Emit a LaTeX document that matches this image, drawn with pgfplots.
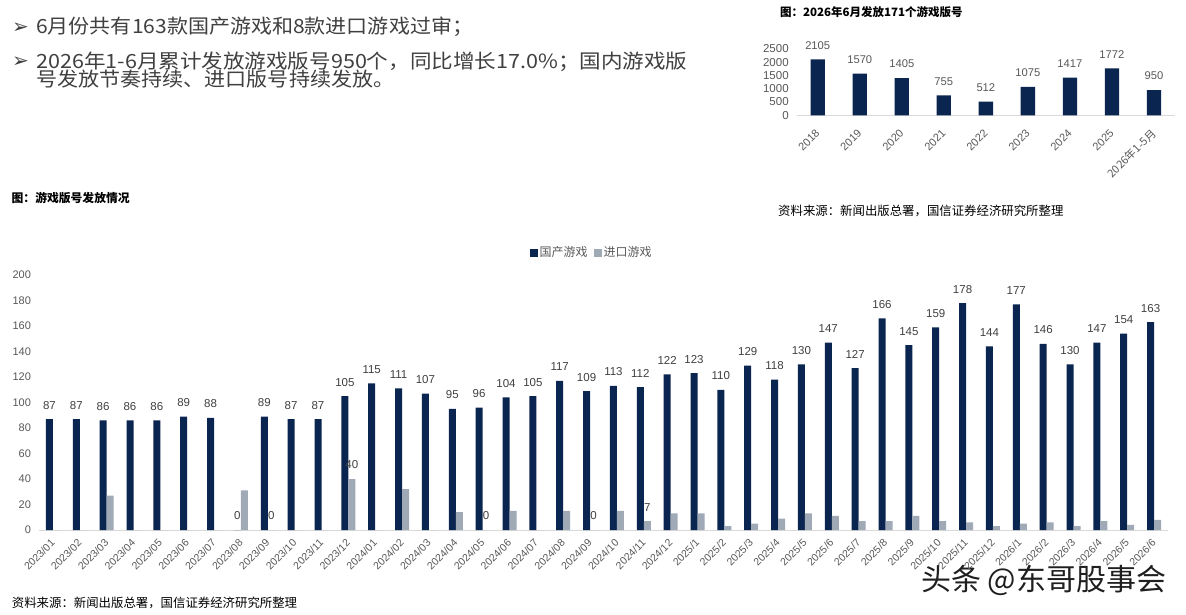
\documentclass[border=0pt]{standalone}
\usepackage{fontspec}
\setmainfont{Liberation Sans}
\newfontfamily\cjk{Noto Sans CJK SC}
\newfontfamily\djv{DejaVu Sans}
\usepackage{pgfplots}
\pgfplotsset{compat=1.18}
\definecolor{navy}{HTML}{0A2650}
\definecolor{gry}{HTML}{A0AAB7}
\definecolor{tk}{HTML}{595959}
\definecolor{txt}{HTML}{404040}
\definecolor{axl}{HTML}{D9D9D9}
\pgfplotsset{sqleg/.style={legend image code/.code={\fill[##1] (0pt,-4pt) rectangle (8pt,4pt);}}}
\begin{document}
\begin{tikzpicture}
\path[use as bounding box, fill=white] (0,0) rectangle (1186pt,614pt);
% bullet text
\node[anchor=base west, inner sep=0pt, font=\djv\fontsize{20}{20}\selectfont, text=txt] at (12pt,580.6pt) {➢};
\node[anchor=base west, inner sep=0pt, font=\djv\fontsize{20}{20}\selectfont, text=txt] at (12pt,546.2pt) {➢};
\node[anchor=base west, inner sep=0pt, xscale=1.073, font=\cjk\fontsize{19.6}{19.6}\selectfont, text=txt] at (36pt,580.1pt) {6月份共有163款国产游戏和8款进口游戏过审；};
\node[anchor=base west, inner sep=0pt, xscale=1.10, font=\cjk\fontsize{19.6}{19.6}\selectfont, text=txt] at (36pt,545.3pt) {2026年1-6月累计发放游戏版号950个，同比增长17.0\%；国内游戏版};
\node[anchor=base west, inner sep=0pt, xscale=1.075, font=\cjk\fontsize{19.6}{19.6}\selectfont, text=txt] at (36pt,527.3pt) {号发放节奏持续、进口版号持续发放。};
% titles and sources
\node[anchor=base west, inner sep=0pt, font=\cjk\bfseries\fontsize{11.8}{12}\selectfont] at (11.5pt,411.5pt) {图：游戏版号发放情况};
\node[anchor=base west, inner sep=0pt, font=\cjk\bfseries\fontsize{11.5}{12}\selectfont] at (780pt,597pt) {图：2026年6月发放171个游戏版号};
\node[anchor=base west, inner sep=0pt, font=\cjk\fontsize{12.4}{13}\selectfont] at (778pt,398.3pt) {资料来源：新闻出版总署，国信证券经济研究所整理};
\node[anchor=base west, inner sep=0pt, font=\cjk\fontsize{12.4}{13}\selectfont] at (11.7pt,7pt) {资料来源：新闻出版总署，国信证券经济研究所整理};
\node[anchor=base west, inner sep=0pt, font=\cjk\fontsize{30}{30}\selectfont, text=black!88] at (921pt,23.6pt) {头条 @东哥股事会};

% main chart
\begin{axis}[
  at={(39.5pt,84pt)}, anchor=south west,
  scale only axis, width=1128pt, height=255pt,
  ybar, bar width=7pt,
  xmin=-0.5, xmax=41.5, ymin=0, ymax=200,
  enlargelimits=false, clip=false,
  axis lines*=left,
  x axis line style={draw=axl, line width=0.8pt},
  y axis line style={draw=none},
  major tick length=0pt, tick style={draw=none},
  ytick={0,20,...,200},
  xtick={0,...,41},
  xticklabels={2023/01,2023/02,2023/03,2023/04,2023/05,2023/06,2023/07,2023/08,2023/09,2023/10,2023/11,2023/12,2024/01,2024/02,2024/03,2024/04,2024/05,2024/06,2024/07,2024/08,2024/09,2024/10,2024/11,2024/12,2025/1,2025/2,2025/3,2025/4,2025/5,2025/6,2025/7,2025/8,2025/9,2025/10,2025/11,2025/12,2026/1,2026/2,2026/3,2026/4,2026/5,2026/6},
  /pgf/number format/assume math mode=true,
  ticklabel style={font=\fontsize{11}{11}\selectfont, text=tk},
  yticklabel style={xshift=-5pt},
  xticklabel style={font=\fontsize{10.5}{10.5}\selectfont, inner sep=0pt, yshift=-11pt, rotate=45, anchor=east},
  nodes near coords style={font=\fontsize{11.5}{11.5}\selectfont, text=txt, anchor=south, inner sep=0pt, yshift=9.7pt},
  legend style={at={(0.4894,1.0882)}, anchor=center, draw=none, fill=none,
    font=\cjk\fontsize{12}{12}\selectfont, text=tk, legend columns=2,
    /tikz/every even column/.append style={column sep=5pt},
    nodes={inner sep=1.5pt}},
]
\addplot[fill=navy, draw=none, bar shift=-3.5pt, sqleg, nodes near coords] coordinates {
(0,87) (1,87) (2,86) (3,86) (4,86) (5,89) (6,88) (7,0) (8,89) (9,87) (10,87) (11,105)
(12,115) (13,111) (14,107) (15,95) (16,96) (17,104) (18,105) (19,117) (20,109) (21,113) (22,112) (23,122)
(24,123) (25,110) (26,129) (27,118) (28,130) (29,147) (30,127) (31,166) (32,145) (33,159) (34,178) (35,144)
(36,177) (37,146) (38,130) (39,147) (40,154) (41,163)};
\addlegendentry{国产游戏}
\addplot[fill=gry, draw=none, bar shift=3.5pt, sqleg] coordinates {
(0,0) (1,0) (2,27) (3,0) (4,0) (5,0) (6,0) (7,31) (8,0) (9,0) (10,0) (11,40)
(12,0) (13,32) (14,0) (15,14) (16,0) (17,15) (18,0) (19,15) (20,0) (21,15) (22,7) (23,13)
(24,13) (25,3) (26,5) (27,9) (28,13) (29,11) (30,7) (31,7) (32,11) (33,7) (34,6) (35,3)
(36,5) (37,6) (38,3) (39,7) (40,4) (41,8)};
\addlegendentry{进口游戏}
\addplot[fill=none, draw=none, bar shift=3.5pt, nodes near coords, forget plot] coordinates {
(8,0) (11,40) (16,0) (20,0) (22,7)};
\end{axis}

% small chart
\begin{axis}[
  at={(796.7pt,498.7pt)}, anchor=south west,
  scale only axis, width=378.3pt, height=66.3pt,
  ybar, bar width=14.3pt, bar shift=0pt,
  xmin=-0.5, xmax=8.5, ymin=0, ymax=2500,
  enlargelimits=false, clip=false,
  axis lines*=left,
  x axis line style={draw=axl, line width=0.8pt},
  y axis line style={draw=none},
  major tick length=0pt, tick style={draw=none},
  ytick={0,500,...,2500},
  xtick={0,...,8},
  xticklabels={2018,2019,2020,2021,2022,2023,2024,2025,{\cjk 2026年1-5月}},
  /pgf/number format/assume math mode=true,
  /pgf/number format/1000 sep={},
  ticklabel style={font=\fontsize{11.5}{11.5}\selectfont, text=tk},
  yticklabel style={xshift=-4.5pt},
  xticklabel style={font=\fontsize{11}{11}\selectfont, inner sep=0pt, yshift=-16pt, rotate=45, anchor=east},
  nodes near coords style={font=\fontsize{11.2}{11.2}\selectfont, text=tk, anchor=south, inner sep=0pt, yshift=9.8pt,
    /pgf/number format/1000 sep={}},
]
\addplot[fill=navy, draw=none, nodes near coords] coordinates {
(0,2105) (1,1570) (2,1405) (3,755) (4,512) (5,1075) (6,1417) (7,1772) (8,950)};
\end{axis}
\end{tikzpicture}
\end{document}
